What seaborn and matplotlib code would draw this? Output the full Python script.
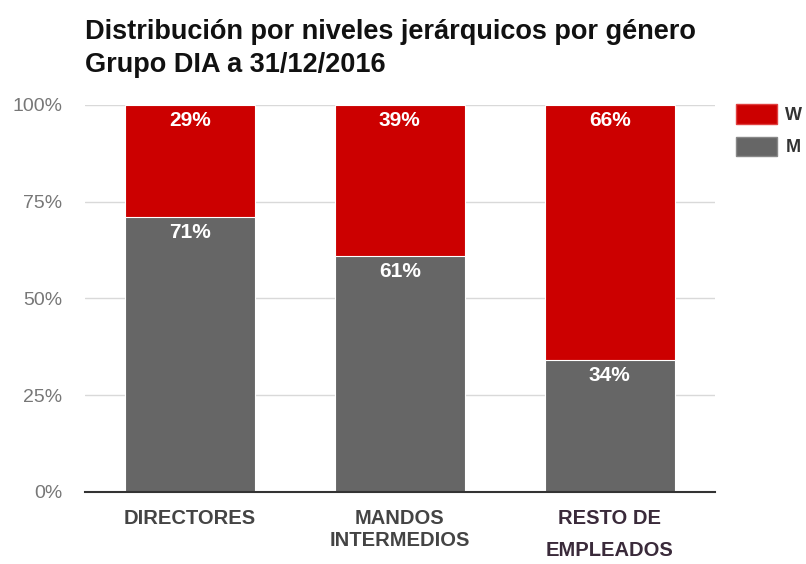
import numpy as np
import pandas as pd
import seaborn as sns
import matplotlib.pyplot as plt
from matplotlib.patches import Patch

# == Data == #
categories = ['DIRECTORES', 'MANDOS\nINTERMEDIOS', 'RESTO DE\nEMPLEADOS']
men = [71, 61, 34]
women = [29, 39, 66]

RED = '#cc0000'
GREY = '#666666'

sns.set_style('white')
plt.rcParams['font.family'] = ['Liberation Sans', 'DejaVu Sans']

df = pd.DataFrame({'cat': categories, 'M': men, 'W': women})
df['total'] = df['M'] + df['W']

fig = plt.figure(figsize=(8.06, 5.64), dpi=100)
ax = fig.add_axes([0.105, 0.128, 0.782, 0.686])

# stacked bars: total in red, men on top in grey
sns.barplot(data=df, x='cat', y='total', color=RED, width=0.62, saturation=1, ax=ax)
sns.barplot(data=df, x='cat', y='M', color=GREY, width=0.62, saturation=1, ax=ax)
for p in ax.patches:
    p.set_edgecolor('white')
    p.set_linewidth(0.8)

for i, row in df.iterrows():
    ax.text(i, row['total'] - 1.5, f"{row['W']}%", ha='center', va='top',
            color='white', fontsize=15, fontweight='bold')
    ax.text(i, row['M'] - 1.5, f"{row['M']}%", ha='center', va='top',
            color='white', fontsize=15, fontweight='bold')

ax.set_xlim(-0.5, 2.5)
ax.set_ylim(0, 100)
ax.set_yticks([0, 25, 50, 75, 100])
ax.set_yticklabels(['0%', '25%', '50%', '75%', '100%'], color='#777777', fontsize=14)
ax.yaxis.grid(True, color='#d9d9d9', linewidth=1)
ax.set_axisbelow(True)
ax.tick_params(axis='y', length=0, pad=16)
ax.tick_params(axis='x', length=0, pad=12.5)
ax.set_xlabel('')
ax.set_ylabel('')
for lbl in ax.get_xticklabels():
    lbl.set_fontsize(14.5)
    lbl.set_fontweight('bold')
    lbl.set_color('#444444')
    lbl.set_va('top')
ax.get_xticklabels()[2].set_linespacing(1.85)
ax.get_xticklabels()[2].set_color('#3a2a3a')

for s in ['top', 'right', 'left']:
    ax.spines[s].set_visible(False)
ax.spines['bottom'].set_color('#333333')
ax.spines['bottom'].set_linewidth(1.5)

fig.text(0.105, 0.966, 'Distribución por niveles jerárquicos por género\nGrupo DIA a 31/12/2016',
         ha='left', va='top', fontsize=19.5, fontweight='bold', color='#111111',
         linespacing=1.35)

handles = [Patch(facecolor=RED, edgecolor='#e04040'), Patch(facecolor=GREY, edgecolor='#888888')]
leg = fig.legend(handles, ['W', 'M'], loc='upper left', bbox_to_anchor=(736 / 806, 1 - 104 / 564),
                 frameon=False, borderpad=0, borderaxespad=0,
                 handlelength=2.28, handleheight=1.3, handletextpad=0.45,
                 labelspacing=0.7, prop={'weight': 'bold', 'size': 13})
for t in leg.get_texts():
    t.set_color('#333333')

fig.savefig('out.png', dpi=100)
